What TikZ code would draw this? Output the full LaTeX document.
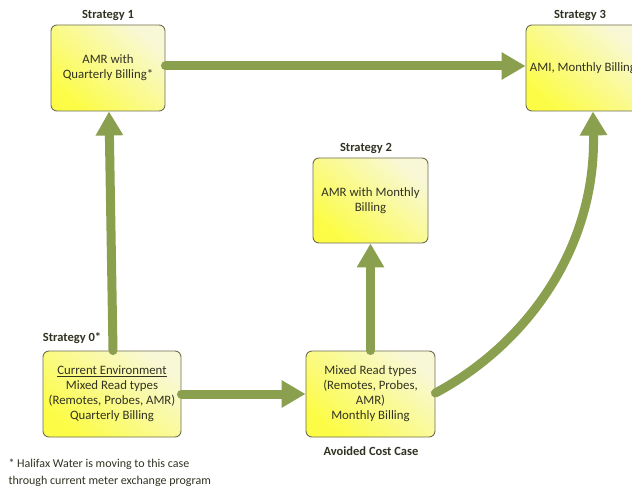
\documentclass[tikz,border=0pt]{standalone}
\usepackage{fontspec}
\setmainfont{Carlito}
\usetikzlibrary{arrows.meta}
\definecolor{arrowgreen}{RGB}{138,160,78}
\definecolor{boxline}{RGB}{110,110,80}
\definecolor{boxyellow}{RGB}{252,252,70}
\definecolor{boxpale}{RGB}{248,248,215}
\definecolor{txt}{RGB}{50,50,35}
\tikzset{
  stratbox/.style={draw=boxline, line width=0.9pt, rounded corners=6pt,
    bottom color=boxyellow, top color=boxpale, shading angle=-40,
    align=center, text=txt, font=\fontsize{12.8}{15}\selectfont, inner sep=0pt},
  stratlabel/.style={font=\bfseries\fontsize{12.5}{14}\selectfont, text=txt},
  flow/.style={draw=arrowgreen, line width=9pt, line cap=round,
    -{Triangle[width=26pt,length=24pt]}},
}
\begin{document}
\begin{tikzpicture}[x=1pt,y=-1pt]
\useasboundingbox (0,0) rectangle (632,489);
\fill[white] (0,0) rectangle (632,489);
% boxes
\node[stratbox, minimum width=114pt, minimum height=86pt] (s1) at (108,68) {AMR with\\Quarterly Billing*};
\node[stratbox, minimum width=114pt, minimum height=86pt] (s3) at (583,68) {AMI, Monthly Billing};
\node[stratbox, minimum width=115pt, minimum height=85pt] (s2) at (370.5,200.5) {AMR with Monthly\\Billing};
\node[stratbox, minimum width=138pt, minimum height=86pt] (s0) at (112,394) {\underline{Current Environment}\\Mixed Read types\\(Remotes, Probes, AMR)\\Quarterly Billing};
\node[stratbox, minimum width=129pt, minimum height=86pt] (av) at (370.5,394) {Mixed Read types\\(Remotes, Probes,\\AMR)\\Monthly Billing};
% labels
\node[stratlabel] (l1) at (108,15) {Strategy 1};
\node[stratlabel] (l3) at (580,15) {Strategy 3};
\node[stratlabel] (l2) at (366,148) {Strategy 2};
\node[stratlabel] (l0) at (72,338) {Strategy 0*};
\node[stratlabel] (lav) at (371,451) {Avoided Cost Case};
% footnote
\node[anchor=west, align=left, text=txt, font=\fontsize{12}{17}\selectfont] (fn) at (5,473)
  {* Halifax Water is moving to this case\\through current meter exchange program};
% arrows
\draw[flow] ([xshift=1pt]s0.north) -- ([xshift=1pt]s1.south);
\draw[flow] ([yshift=2pt]s1.east) -- ([yshift=2pt]s3.west);
\draw[flow] (s0.east) -- (av.west);
\draw[flow] (av.north) -- (s2.south);
\draw[flow] ([yshift=1pt]av.east) .. controls (525,345) and (596,250) .. ([xshift=10pt]s3.south);
\end{tikzpicture}
\end{document}
